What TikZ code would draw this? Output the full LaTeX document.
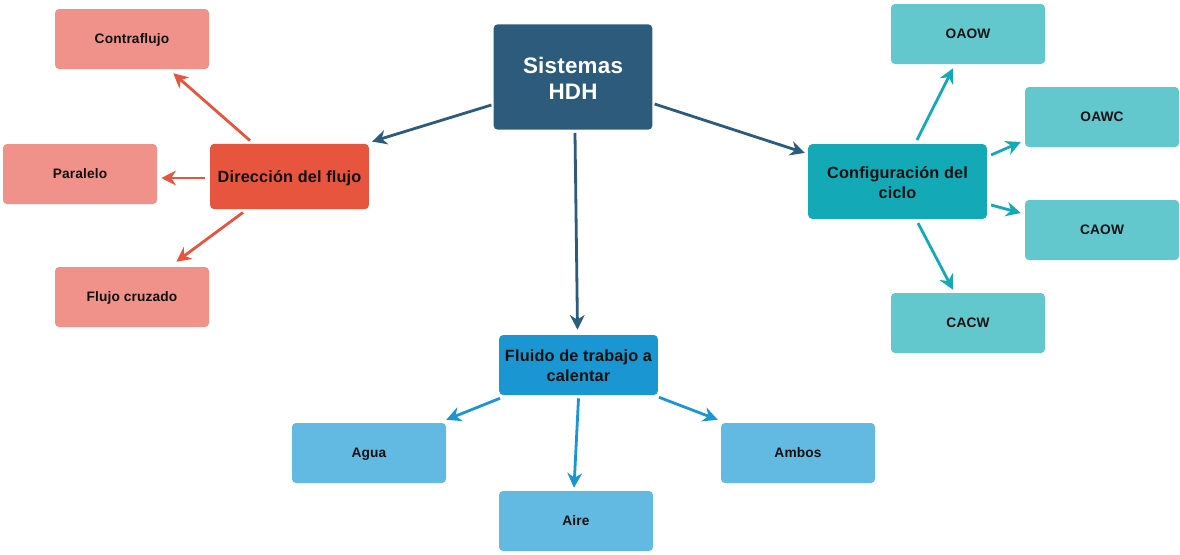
\documentclass[tikz,border=0pt]{standalone}
\usepackage{fontspec}
\setmainfont{Liberation Sans}[LetterSpace=1.0]
\usetikzlibrary{arrows.meta}
\definecolor{cdark}{HTML}{2D5B7C}
\definecolor{cred}{HTML}{E8553F}
\definecolor{clred}{HTML}{F1928A}
\definecolor{cteal}{HTML}{13A9B6}
\definecolor{clteal}{HTML}{62C8CE}
\definecolor{cblue}{HTML}{1A96D2}
\definecolor{clblue}{HTML}{62BAE3}
\definecolor{ctext}{HTML}{111111}
\tikzset{
  box/.style={rounded corners=3pt, inner sep=0pt, align=center, font=\bfseries, text=ctext},
  leaf/.style={box, minimum width=115.5pt, minimum height=45pt, text height=7.4pt, text depth=0pt, font=\bfseries\fontsize{10.3}{12}\selectfont},
  mid/.style={box, font=\bfseries\fontsize{12.2}{15}\selectfont},
  conn/.style={line width=2.1pt, -{Stealth[length=11pt,width=11pt,inset=3.5pt]}},
}
\begin{document}
\begin{tikzpicture}[x=0.75pt,y=-0.75pt]
\useasboundingbox (0,0) rectangle (1180,554);
% root
\node[box, fill=cdark, text=white, minimum width=119pt, minimum height=79pt, font=\bfseries\fontsize{16.8}{20}\selectfont] (root) at (573,77) {\rule{0pt}{14pt}Sistemas\\HDH};
% mid level
\node[mid, fill=cred, minimum width=119pt, minimum height=49pt, text height=8.8pt, text depth=0pt] (dir) at (289.5,176.5) {Dirección del flujo};
\node[mid, fill=cteal, minimum width=134pt, minimum height=56pt] (cfg) at (897.5,181.5) {\rule{0pt}{10pt}Configuración del\\ciclo};
\node[mid, fill=cblue, minimum width=119pt, minimum height=45pt] (flu) at (578.5,365) {\rule{0pt}{10pt}Fluido de trabajo a\\calentar};
% leaves
\node[leaf, fill=clred] (contra) at (132,39) {Contraflujo};
\node[leaf, fill=clred] (para) at (80,174) {Paralelo};
\node[leaf, fill=clred] (cruz) at (132,297) {Flujo cruzado};
\node[leaf, fill=clteal] (oaow) at (968,34) {OAOW};
\node[leaf, fill=clteal] (oawc) at (1102,117) {OAWC};
\node[leaf, fill=clteal] (caow) at (1102,230) {CAOW};
\node[leaf, fill=clteal] (cacw) at (968,323) {CACW};
\node[leaf, fill=clblue] (agua) at (369,453) {Agua};
\node[leaf, fill=clblue] (aire) at (576,521) {Aire};
\node[leaf, fill=clblue] (ambos) at (798,453) {Ambos};
% connectors
\draw[conn, cdark] ([shift={(-2,0)}]root.west |- 0,105) -- ([shift={(3,-2)}]dir.north east);
\draw[conn, cdark] ([shift={(2,0)}]root.east |- 0,104) -- ([shift={(-3,9)}]cfg.north west);
\draw[conn, cdark] ([shift={(2,3)}]root.south) -- ([shift={(-1,-5)}]flu.north);
\draw[conn, cred] (dir.north -| 250,0) ++(0,-3) -- ([shift={(-36,4)}]contra.south east);
\draw[conn, cred] ([xshift=-4pt]dir.west |- 0,178) -- ([xshift=3pt]para.east |- 0,178);
\draw[conn, cred] (dir.south -| 243,0) ++(0,3) -- ([shift={(-33,-5)}]cruz.north east);
\draw[conn, cteal] (cfg.north -| 917,0) ++(0,-4) -- ([shift={(-15,4)}]oaow.south);
\draw[conn, cteal] ([xshift=3pt]cfg.east |- 0,155) -- ([xshift=-3pt]oawc.west |- 0,142);
\draw[conn, cteal] ([xshift=3pt]cfg.east |- 0,205) -- ([xshift=-3pt]caow.west |- 0,213);
\draw[conn, cteal] (cfg.south -| 918,0) ++(0,4) -- ([shift={(-15,-3)}]cacw.north);
\draw[conn, cblue] (flu.south -| 500,0) ++(0,3) -- ([shift={(0,-3)}]agua.north east);
\draw[conn, cblue] ([shift={(0,3)}]flu.south) -- ([shift={(-2,-3)}]aire.north);
\draw[conn, cblue] (flu.south -| 659,0) ++(0,2) -- ([shift={(-3,-3)}]ambos.north west);
\end{tikzpicture}
\end{document}
